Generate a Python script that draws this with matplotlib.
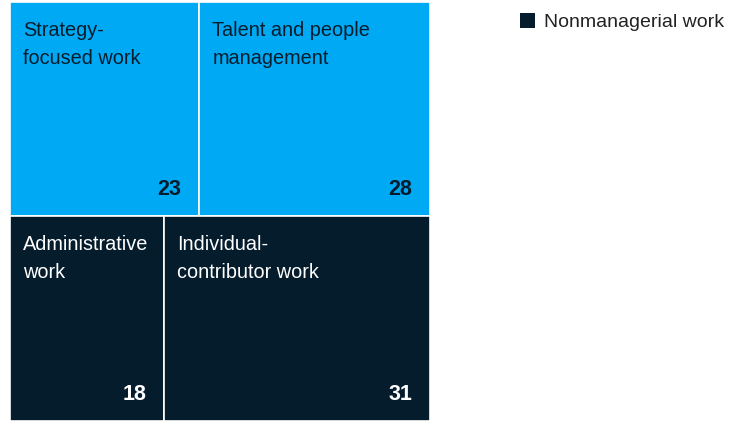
import matplotlib.pyplot as plt
from matplotlib.patches import Rectangle

# Data: two rows of the treemap (share of time, %)
rows = ['Managerial work', 'Nonmanagerial work']
labels = [['Strategy-\nfocused work', 'Talent and people\nmanagement'],
          ['Administrative\nwork', 'Individual-\ncontributor work']]
values = [[23, 28], [18, 31]]

colors = ['#00A9F4', '#051C2C']
text_colors = ['#051C2C', 'white']

plt.rcParams['font.family'] = ['Liberation Sans', 'DejaVu Sans']

W, H = 734, 421
fig = plt.figure(figsize=(W / 100, H / 100), dpi=100)
ax = fig.add_axes([10 / W, 0, 420 / W, 419 / H])
ax.set_xlim(0, 1)
ax.set_ylim(0, 1)
ax.axis('off')

total = sum(sum(r) for r in values)
top = 1.0
pad_x = 18 / 420   # in axes units
pad_y = 21 / 419
for i, row in enumerate(values):
    row_h = sum(row) / total
    y0 = top - row_h
    left = 0.0
    for j, v in enumerate(row):
        w = v / sum(row)
        ax.add_patch(Rectangle((left, y0), w, row_h, facecolor=colors[i],
                               edgecolor='white', linewidth=1.2))
        ax.text(left + 13 / 420, top - 19 / 419, labels[i][j], ha='left', va='top',
                fontsize=14.3, color=text_colors[i], linespacing=1.6)
        ax.text(left + w - pad_x, y0 + pad_y, str(v), ha='right', va='baseline',
                fontsize=15.5, fontweight='bold', color=text_colors[i])
        left += w
    top = y0

# legend
fig.patches.append(Rectangle((520 / W, 1 - 28 / H), 15 / W, 15 / H,
                             transform=fig.transFigure, facecolor=colors[1],
                             edgecolor='none'))
fig.text(544 / W, 1 - 27 / H, rows[1], ha='left', va='baseline',
         fontsize=14, color='#222222')

plt.savefig('out.png', dpi=100)
